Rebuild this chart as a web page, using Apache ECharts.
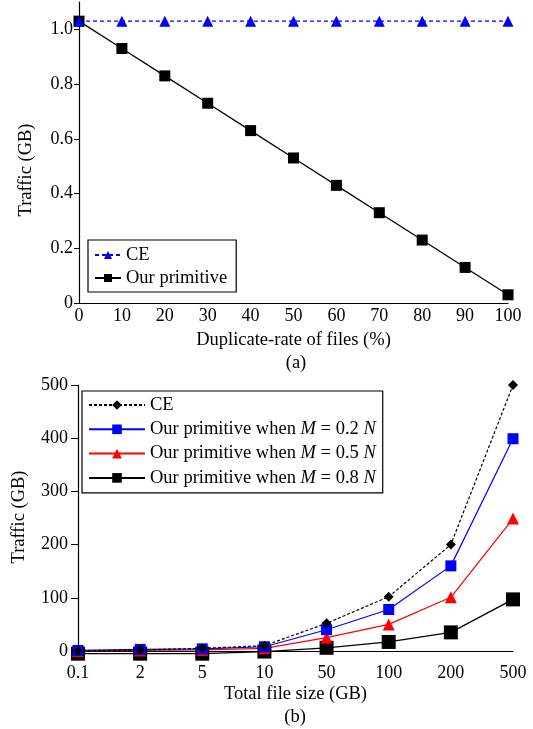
<!DOCTYPE html>
<html>
<head>
<meta charset="utf-8">
<script src="https://cdn.jsdelivr.net/npm/echarts@6/dist/echarts.min.js"></script>
<style>
  html, body { margin: 0; padding: 0; background: #fff; }
  #chart { width: 533px; height: 729px; }
</style>
</head>
<body>
<div id="chart"></div>
<script>
// (a) traffic vs duplicate rate
var rateCats = [0, 10, 20, 30, 40, 50, 60, 70, 80, 90, 100];
var ceTop = [1.03, 1.03, 1.03, 1.03, 1.03, 1.03, 1.03, 1.03, 1.03, 1.03, 1.03];
var primTop = [1.03, 0.93, 0.83, 0.73, 0.63, 0.53, 0.43, 0.33, 0.23, 0.13, 0.03];

// (b) traffic vs total file size
var sizeCats = ['0.1', '2', '5', '10', '50', '100', '200', '500'];
var ceBottom = [0, 2, 5, 10, 52, 102, 200, 500];
var m02 = [1, 3, 4, 8, 40, 78, 160, 399];
var m05 = [0, 1, 2, 5, 25, 50, 101, 249];
var m08 = [-5, -5, -5, -1, 6, 17, 35, 97];

var FONT = 'Liberation Serif';
var txt = { fontFamily: FONT, fontSize: 18, color: '#000' };

function pairs(xs, ys) {
    return xs.map(function (x, i) { return [x, ys[i]]; });
}

var chart = echarts.init(document.getElementById('chart'));

var option = {
    animation: false,
    backgroundColor: '#fff',
    grid: [
        { left: 79, right: 25, top: 2, bottom: 426 },
        { left: 78, right: 20, top: 385, bottom: 78 }
    ],
    xAxis: [
        {
            gridIndex: 0, type: 'value', min: 0, max: 100, interval: 10,
            name: 'Duplicate-rate of files (%)', nameLocation: 'middle', nameGap: 28,
            nameTextStyle: { fontFamily: FONT, fontSize: 18.5, color: '#000' },
            axisLine: { lineStyle: { color: '#000', width: 1.2 } },
            axisTick: { show: false },
            splitLine: { show: false },
            axisLabel: Object.assign({ margin: 4 }, txt)
        },
        {
            gridIndex: 1, type: 'category', data: sizeCats, boundaryGap: false,
            name: 'Total file size (GB)', nameLocation: 'middle', nameGap: 34,
            nameTextStyle: { fontFamily: FONT, fontSize: 18.5, color: '#000' },
            axisLine: { lineStyle: { color: '#000', width: 1.2 } },
            axisTick: { show: false },
            splitLine: { show: false },
            axisLabel: Object.assign({ margin: 13 }, txt)
        }
    ],
    yAxis: [
        {
            gridIndex: 0, type: 'value', min: 0, max: 1.1, interval: 0.2,
            axisLine: { show: true, lineStyle: { color: '#000', width: 1.2 } },
            axisTick: { show: true, length: 5, lineStyle: { color: '#000' } },
            splitLine: { show: false },
            axisLabel: Object.assign({
                margin: 6, showMaxLabel: false,
                formatter: function (v) { return v === 0 ? '0' : v.toFixed(1); }
            }, txt)
        },
        {
            gridIndex: 1, type: 'value', min: 0, max: 500, interval: 100,
            axisLine: { show: true, lineStyle: { color: '#000', width: 1.2 } },
            axisTick: { show: true, length: 7, lineStyle: { color: '#000' } },
            splitLine: { show: false },
            axisLabel: Object.assign({ margin: 10 }, txt)
        }
    ],
    legend: [
        {
            left: 88, top: 240, orient: 'vertical',
            data: ['CE', 'Our primitive'],
            itemWidth: 26, itemHeight: 10, itemGap: 3,
            padding: [5, 9, 4, 6],
            borderColor: '#000', borderWidth: 1.2, borderRadius: 0,
            textStyle: { fontFamily: FONT, fontSize: 18.5, color: '#000', lineHeight: 20 }
        },
        {
            left: 82, top: 391, orient: 'vertical',
            data: ['CE ', 'm02', 'm05', 'm08'],
            itemWidth: 56, itemHeight: 12, itemGap: 4.3,
            padding: [4, 7, 5, 6],
            borderColor: '#000', borderWidth: 1.2, borderRadius: 0,
            formatter: function (name) {
                if (name === 'CE ') return 'CE';
                var v = { m02: '0.2', m05: '0.5', m08: '0.8' }[name];
                return '{n|Our primitive when }{i|M}{n| = ' + v + ' }{i|N}';
            },
            textStyle: {
                fontFamily: FONT, fontSize: 18.5, color: '#000', lineHeight: 20,
                rich: {
                    n: { fontFamily: FONT, fontSize: 18.5, color: '#000' },
                    i: { fontFamily: FONT, fontSize: 18.5, color: '#000', fontStyle: 'italic' }
                }
            }
        }
    ],
    graphic: [
        { type: 'text', x: 26, y: 170, rotation: Math.PI / 2,
          style: { text: 'Traffic (GB)', font: '18.5px "Liberation Serif"', fill: '#000', align: 'center', verticalAlign: 'middle' } },
        { type: 'text', x: 19, y: 517, rotation: Math.PI / 2,
          style: { text: 'Traffic (GB)', font: '18.5px "Liberation Serif"', fill: '#000', align: 'center', verticalAlign: 'middle' } },
        { type: 'text', x: 296, y: 363,
          style: { text: '(a)', font: '18.5px "Liberation Serif"', fill: '#000', align: 'center', verticalAlign: 'middle' } },
        { type: 'text', x: 295, y: 717,
          style: { text: '(b)', font: '18.5px "Liberation Serif"', fill: '#000', align: 'center', verticalAlign: 'middle' } }
    ],
    series: [
        {
            name: 'Our primitive', type: 'line', xAxisIndex: 0, yAxisIndex: 0,
            data: pairs(rateCats, primTop), clip: false,
            symbol: 'rect', symbolSize: 11,
            itemStyle: { color: '#000' },
            lineStyle: { color: '#000', width: 1.3 }
        },
        {
            name: 'CE', type: 'line', xAxisIndex: 0, yAxisIndex: 0,
            data: pairs(rateCats, ceTop), clip: false,
            symbol: 'triangle', symbolSize: 11,
            itemStyle: { color: '#0000ff' },
            lineStyle: { color: '#0000ff', width: 1.2, type: [4, 3] }
        },
        {
            name: 'm08', type: 'line', xAxisIndex: 1, yAxisIndex: 1,
            data: m08, clip: false,
            symbol: 'rect', symbolSize: 14,
            itemStyle: { color: '#000' },
            lineStyle: { color: '#000', width: 1.3 }
        },
        {
            name: 'm05', type: 'line', xAxisIndex: 1, yAxisIndex: 1,
            data: m05, clip: false,
            symbol: 'triangle', symbolSize: 12,
            itemStyle: { color: '#ff0000' },
            lineStyle: { color: '#ff0000', width: 1.2 }
        },
        {
            name: 'm02', type: 'line', xAxisIndex: 1, yAxisIndex: 1,
            data: m02, clip: false,
            symbol: 'rect', symbolSize: 11,
            itemStyle: { color: '#0000ff' },
            lineStyle: { color: '#0000ff', width: 1.2 }
        },
        {
            name: 'CE ', type: 'line', xAxisIndex: 1, yAxisIndex: 1,
            data: ceBottom, clip: false,
            symbol: 'diamond', symbolSize: 10,
            itemStyle: { color: '#000' },
            lineStyle: { color: '#000', width: 1.2, type: [3, 2] }
        }
    ]
};

chart.setOption(option);
</script>
</body>
</html>
